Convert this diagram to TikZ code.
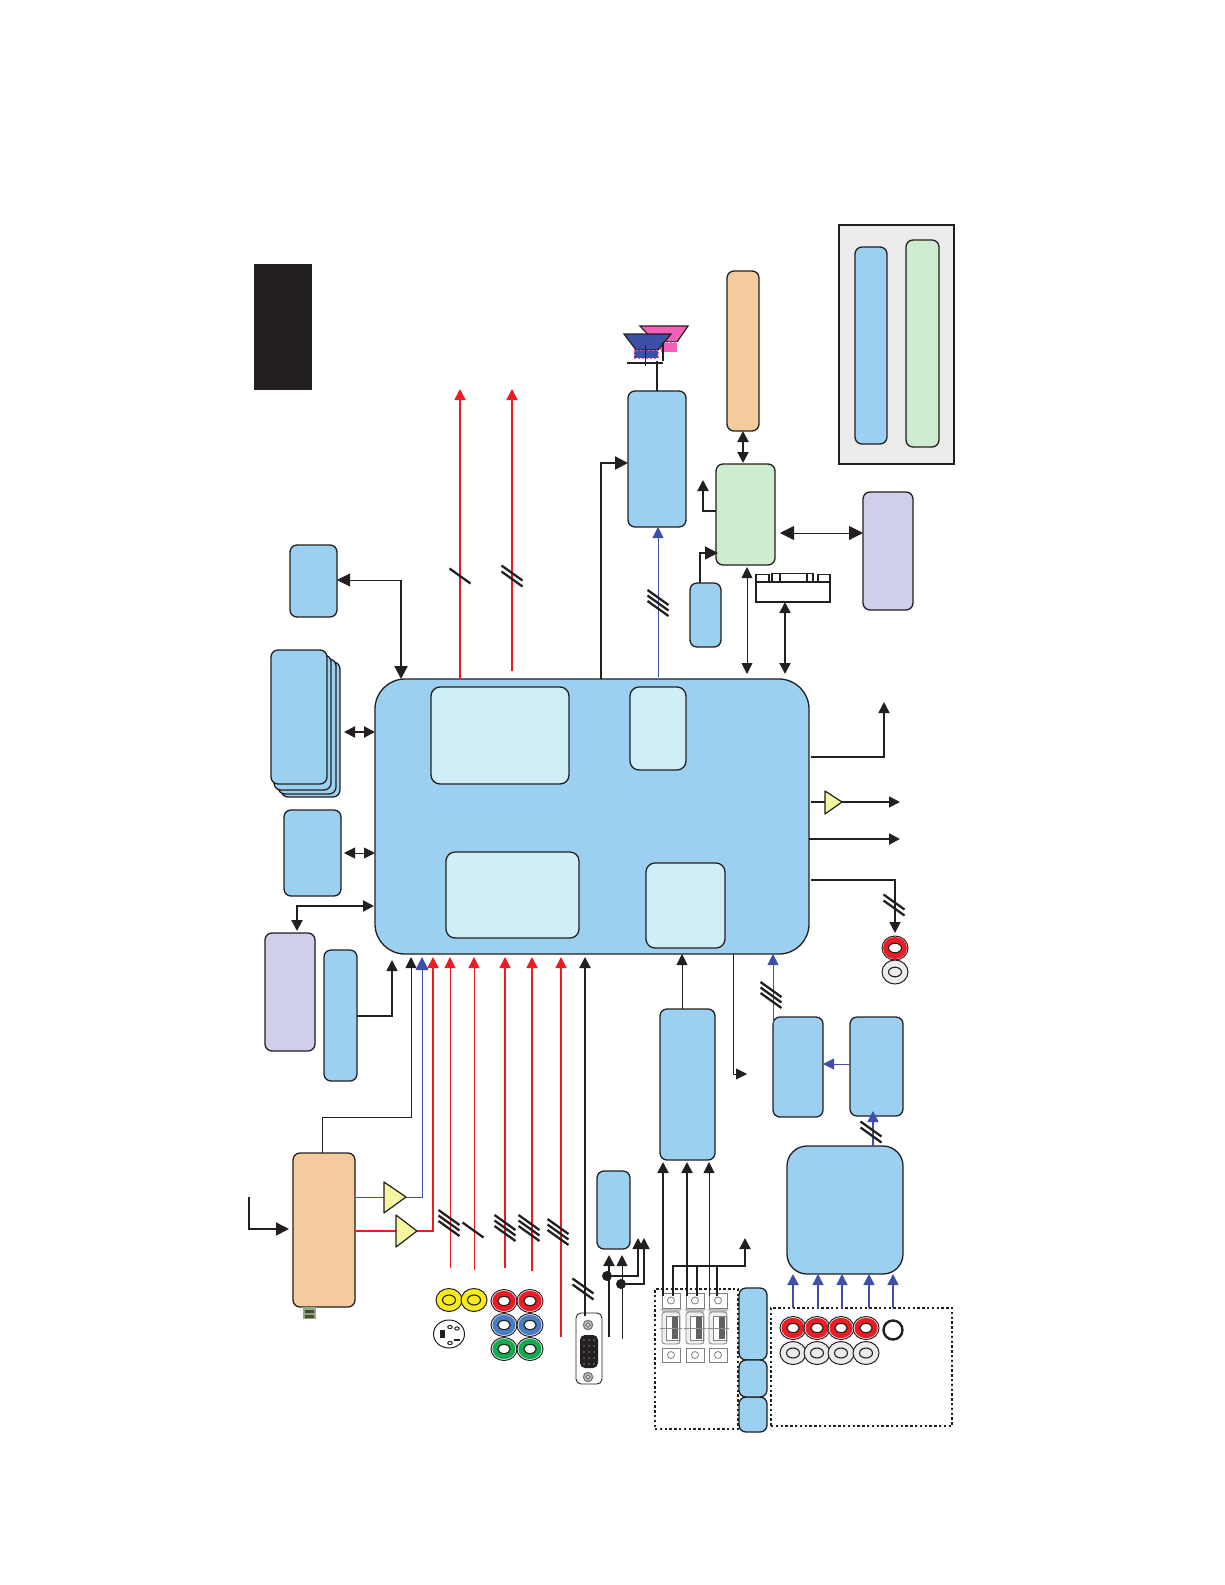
\documentclass[tikz,border=0pt]{standalone}
\usetikzlibrary{arrows.meta,shapes.geometric}
\definecolor{cblue}{RGB}{155,208,241}
\definecolor{ccyan}{RGB}{208,238,247}
\definecolor{corange}{RGB}{243,203,156}
\definecolor{cgreen}{RGB}{206,236,208}
\definecolor{cpurple}{RGB}{207,207,234}
\definecolor{cyellow}{RGB}{246,245,160}
\definecolor{ablue}{RGB}{61,80,168}
\definecolor{ared}{RGB}{237,28,36}
\definecolor{kk}{RGB}{35,31,32}
\definecolor{cgray}{RGB}{236,236,236}
\definecolor{cpink}{RGB}{245,95,184}
\definecolor{jblue}{RGB}{70,125,195}
\definecolor{jgreen}{RGB}{20,170,80}
\definecolor{jyellow}{RGB}{250,235,30}
\tikzset{
 basebox/.style={draw=kk,line width=.65pt,inner sep=0pt,outer sep=0pt,rounded corners=3.5pt},
 bl/.style={basebox,fill=cblue},
 cy/.style={basebox,fill=ccyan,rounded corners=4.5pt},
 or/.style={basebox,fill=corange},
 gr/.style={basebox,fill=cgreen},
 pu/.style={basebox,fill=cpurple},
 w1/.style={line width=.42pt},
 w2/.style={line width=.75pt},
 w3/.style={line width=1.1pt},
 kl/.style={draw=kk},
 rl/.style={draw=ared},
 bu/.style={draw=ablue},
 ar/.style={-{Triangle[length=6.5pt,width=6.5pt]}},
 ars/.style={-{Triangle[length=5.5pt,width=5.5pt]}},
 dar/.style={{Triangle[length=5.5pt,width=5.5pt]}-{Triangle[length=5.5pt,width=5.5pt]}},
 darw/.style={{Triangle[length=7pt,width=7pt]}-{Triangle[length=7pt,width=7pt]}},
 slashline/.style={draw=kk,line width=1.15pt},
 amp/.style={draw=kk,line width=.6pt,fill=cyellow,line join=round},
 dotbox/.style={draw=kk,line width=.75pt,dash pattern=on 1.2pt off 1.2pt},
 jo/.style={draw=kk,line width=.5pt,fill=white},
 ji/.style={draw=kk,line width=.55pt},
 dotc/.style={circle,fill=kk,inner sep=0pt,minimum size=5pt},
 grayp/.style={draw=black!50,line width=.4pt,fill=white},
}
% box from corners in reference pixels: name, x1,y1,x2,y2, style
\newcommand\bx[6]{\node[#6,minimum width={(#4-#2)*.5pt},minimum height={(#5-#3)*.5pt}] (#1) at ({(#2+#4)/2},{(#3+#5)/2}) {};}
\newcommand\slashone[2]{\draw[slashline] (#1-10.5,#2-7.5) -- (#1+10.5,#2+7.5);}
\newcommand\slashtwo[2]{\draw[slashline] (#1-10.5,#2-10.5) -- (#1+10.5,#2+4.5) (#1-10.5,#2-4.5) -- (#1+10.5,#2+10.5);}
\newcommand\slashthree[2]{\draw[slashline] (#1-10.5,#2-13) -- (#1+10.5,#2+2) (#1-10.5,#2-7.5) -- (#1+10.5,#2+7.5) (#1-10.5,#2-2) -- (#1+10.5,#2+13);}
\newcommand\jackc[3]{\draw[jo] (#2,#3) ellipse (13 and 11.5); \fill[#1] (#2,#3) ellipse (11.6 and 10.2); \draw[ji,fill=white] (#2,#3) ellipse (6.2 and 4.6);}
\newcommand\jacky[2]{\draw[jo,fill=jyellow] (#1,#2) ellipse (13 and 11.5); \draw[ji,fill=jyellow] (#1,#2) ellipse (6.5 and 5);}
\newcommand\jackw[2]{\draw[jo,fill=cgray] (#1,#2) ellipse (13 and 11.5); \draw[ji,fill=cgray] (#1,#2) ellipse (6.5 and 5);}
\newcommand\hdmiunit[1]{
 \draw[grayp] (#1-9,1293) rectangle (#1+9,1308);
 \draw[grayp] (#1,1300.5) circle (3.5);
 \fill[black!25] (#1-11,1309) -- (#1-8,1312) -- (#1+8,1312) -- (#1+11,1309) -- cycle;
 \draw[grayp,fill=black!6,rounded corners=1.5pt] (#1-9,1312) rectangle (#1+9,1344);
 \draw[grayp,fill=white] (#1-5,1316) rectangle (#1+8,1340);
 \fill[black!62] (#1+1,1317) rectangle (#1+7,1339);
 \draw[black!45,line width=.25pt] (#1-11,1328) -- (#1+11,1328);
 \draw[grayp] (#1-9,1348) rectangle (#1+9,1362);
 \draw[grayp] (#1,1355) circle (3.5);
}
\begin{document}
\begin{tikzpicture}[x=.5pt,y=-.5pt]
\useasboundingbox (0,0) rectangle (1225,1585);
% legend and label panels
\bx{blackpanel}{254}{264}{312}{390}{fill=kk,inner sep=0pt,outer sep=0pt}
\bx{graypanel}{839}{225}{954}{464}{draw=kk,line width=.6pt,fill=cgray,inner sep=0pt,outer sep=0pt}
\bx{legendblue}{855}{247}{887}{444}{bl}
\bx{legendgreen}{906}{240}{939}{447}{gr}
% main chip
\bx{main}{375}{679}{809}{954}{bl,rounded corners=15pt}
\bx{innera}{431}{687}{569}{784}{cy}
\bx{innerb}{630}{687}{686}{770}{cy}
\bx{innerc}{446}{852}{579}{938}{cy}
\bx{innerd}{646}{863}{725}{948}{cy}
% left blocks
\bx{topleft}{290}{545}{337}{617}{bl}
\bx{stackc}{281}{662}{340}{797}{bl}
\bx{stackb}{278}{659}{336}{794}{bl}
\bx{stacka}{274}{655}{331}{790}{bl}
\bx{stack}{271}{650}{327}{784}{bl}
\bx{flash}{284}{810}{341}{896}{bl}
\bx{purpleleft}{265}{933}{315}{1051}{pu}
\bx{narrow}{324}{950}{357}{1081}{bl}
\bx{tuner}{293}{1153}{355}{1307}{or}
\bx{usb}{303}{1307}{316}{1319}{fill=black!35!green!25!gray!70,inner sep=0pt,outer sep=0pt}
\fill[black!55!olive] (305,1310) rectangle (314,1313) (305,1315) rectangle (314,1318);
% top blocks
\bx{ampbox}{628}{391}{686}{527}{bl}
\bx{tallorange}{727}{271}{759}{431}{or}
\bx{greenbox}{716}{464}{775}{565}{gr}
\bx{smallblue}{690}{583}{721}{647}{bl}
\bx{purpleright}{863}{492}{913}{610}{pu}
% bottom blocks
\bx{hdmibox}{660}{1009}{715}{1160}{bl}
\bx{bluemid}{773}{1017}{823}{1117}{bl}
\bx{blueright}{850}{1017}{903}{1116}{bl}
\bx{bigblue}{787}{1146}{903}{1274}{bl,rounded corners=10pt}
\bx{vgabox}{597}{1171}{630}{1249}{bl}
\bx{stripa}{739}{1288}{767}{1360}{bl}
\bx{stripc}{739}{1397}{767}{1432}{bl}
\bx{stripb}{739}{1360}{767}{1397}{bl}
\bx{hdmizone}{655}{1289}{738}{1429}{dotbox}
\bx{audiozone}{771}{1308}{952}{1426}{dotbox}
% speakers
\draw[kk,line width=.6pt,fill=cpink] (640,326) -- (688,326) -- (677,342) -- (655,342) -- cycle;
\fill[cpink] (660,342) rectangle (677,352);
\draw[white,line width=.4pt,dash pattern=on 1pt off 1pt] (660,342) rectangle (677,352);
\draw[kk,line width=.6pt,fill=ablue] (624,334) -- (671,334) -- (658,350) -- (636,350) -- cycle;
\fill[ablue] (634,350) rectangle (658,358);
\draw[cpink,line width=.4pt,dash pattern=on 1pt off 1pt] (634,350) rectangle (658,358);
\draw[kk,line width=.55pt] (627,363) -- (663,363) (645.5,345) -- (645.5,366) (663,342) -- (663,361);
\coordinate (spk) at (657,361);
\draw[kl,w2] (spk) -- (spk |- ampbox.north);
% red top outputs
\coordinate (rta) at (460,389);
\coordinate (rtb) at (512,389);
\draw[rl,w2,ars] (rta |- main.north) -- (rta);
\draw[rl,w2,ars,shorten <=4pt] (rtb |- main.north) -- (rtb);
\slashone{460}{576}
\slashtwo{512}{576}
% top-left bus
\coordinate (tlb) at (401,580);
\draw[kl,w1,ar] (tlb) -- (topleft.east |- tlb);
\draw[kl,w3,ar] (tlb) -- (tlb |- main.north);
% left arrows
\coordinate (la) at (344,732);
\draw[kl,w3,dar] (la) -- (la -| main.west);
\coordinate (lb) at (344,853);
\draw[kl,w1,dar] (lb) -- (lb -| main.west);
\coordinate (lc) at (297,931);
\coordinate (lc2) at (374,906);
\draw[kl,w3,{Triangle[length=5.5pt,width=5.5pt]}-{Triangle[length=5.5pt,width=5.5pt]}] (lc) |- (lc2);
\coordinate (ln) at (392,1016);
\coordinate (lnt) at (392,960);
\draw[kl,w2,ars] (narrow.east |- ln) -| (lnt);
% top right connectors
\coordinate (spb) at (601,463);
\draw[kl,w3,ar] (spb |- main.north) |- (ampbox.west |- spb);
\coordinate (sba) at (658,677);
\draw[bu,w1,ars] (sba) -- (ampbox.south -| sba);
\slashthree{658}{603}
\coordinate (oa) at (743,463);
\draw[kl,w3,dar] (oa) -- (oa |- tallorange.south);
\coordinate (gua) at (703,480);
\draw[kl,w3,ars] (greenbox.west |- 0,511) -| (gua);
\coordinate (sbb) at (700,553);
\draw[kl,w2,ar] (sbb |- smallblue.north) |- (718,553);
\coordinate (hza) at (780,533);
\draw[kl,w1,darw] (hza) -- (purpleright.west |- hza);
\coordinate (dva) at (747,674);
\draw[kl,w1,dar] (dva) -- (747,567);
% DVI connector
\bx{dvi}{756}{582}{830}{602}{draw=kk,line width=.6pt,fill=white,inner sep=0pt,outer sep=0pt}
\draw[kk,line width=.55pt,fill=white] (756,574.5) rectangle (769,582);
\draw[kk,line width=.55pt,fill=white] (772,573.5) rectangle (813,582);
\draw[kk,line width=.55pt] (780,573.5) -- (780,582) (807,573.5) -- (807,582);
\draw[kk,line width=.55pt,fill=white] (818,574.5) rectangle (830,582);
\coordinate (dvb) at (785,674);
\draw[kl,w3,dar] (dvb) -- (dvb |- dvi.south);
% right outputs
\coordinate (rra) at (884,702);
\draw[kl,w2,ars] (main.east |- 0,757) ++(2,0) -| (rra);
\coordinate (rrb) at (900,802);
\draw[kl,w2] (main.east |- rrb) ++(2,0) -- (825,802);
\draw[kl,w2,ars] (842,802) -- (rrb);
\draw[amp] (825,791) -- (825,814) -- (842,802) -- cycle;
\coordinate (rrc) at (900,839);
\draw[kl,w3,ars] (main.east |- rrc) -- (rrc);
\coordinate (rrd) at (895,933);
\draw[kl,w2,ars] (main.east |- 0,880) ++(2,0) -| (rrd);
\slashtwo{894}{905}
\draw[jo] (895,948) ellipse (13 and 12); \fill[ared] (895,948) ellipse (12 and 11); \draw[ji,fill=white] (895,948) ellipse (6.5 and 4.8);
\draw[jo,fill=cgray] (895,972) ellipse (13 and 12); \draw[ji,fill=cgray] (895,972) ellipse (6.5 and 4.8);
% bottom right
\coordinate (bma) at (733,1074);
\coordinate (bmt) at (747,1074);
\draw[kl,w1,ars] (bma |- main.south) |- (bmt);
\coordinate (bmb) at (773,1027);
\draw[bu,w1,ars] (bmb) -- (bmb |- main.south);
\slashthree{771}{995}
\draw[bu,w1,ars] (blueright.west |- 0,1064) -- (bluemid.east |- 0,1064);
\coordinate (bmc) at (873,1111);
\draw[bu,w2,ars] (bmc |- bigblue.north) -- (bmc);
\slashtwo{871}{1132}
\coordinate (hb) at (682,1009);
\draw[kl,w1,ars] (hb) -- (hb |- main.south);
% HDMI
\hdmiunit{671}
\hdmiunit{695}
\hdmiunit{718}
\coordinate (ha) at (663,1296);
\coordinate (hc) at (687,1296);
\coordinate (he) at (709,1296);
\coordinate (hat) at (663.5,1162);
\draw[kl,w3,ars] (ha) -- (hat -| ha);
\draw[kl,w3,ars] (hc) -- (hat -| hc);
\draw[kl,w1,ars] (he) -- (hat -| he);
\coordinate (hbus) at (745,1266);
\draw[kl,w3,ars] (673,1296) |- (hbus) -- (745,1238);
\draw[kl,w3] (697,1296) -- (697,1266);
\draw[kl,w2] (717,1296) -- (717,1266);
% audio inputs
\foreach \p/\w in {793/w3,818/w2,842/w2,869/w2,893/w2}{
 \coordinate (aud) at (\p,1308);
 \draw[bu,\w,{Triangle[length=5.5pt,width=5.5pt]}-] (aud |- bigblue.south) -- (aud);
}
\foreach \x in {793,817,841,866}{\jackc{ared}{\x}{1328}}
\foreach \x in {793,817,841,866}{\jackw{\x}{1353}}
\draw[kk,line width=1.2pt,fill=white] (893,1330) ellipse (9.5 and 9.5);
% tuner connectors
\coordinate (tuin) at (249,1197);
\draw[kl,w2,ar,shorten >=2pt] (tuin) |- (tuner.west |- 0,1229);
\coordinate (tuk) at (322,1117);
\coordinate (tuk2) at (411,1000);
\draw[kl,w1] (tuk |- tuner.north) -- (tuk) -| (tuk2);
\coordinate (bmt2) at (411,957);
\draw[kl,w1,ars] (tuk2) -- (bmt2);
\draw[bu,w1] (tuner.east |- 0,1197) -- (384,1197);
\draw[bu,w1,ar] (406,1197) -| (422,957);
\draw[amp] (384,1182) -- (384,1213) -- (406,1197) -- cycle;
\draw[rl,w3] (tuner.east |- 0,1231) -- (396,1231);
\draw[rl,w3,ars] (417,1231) -| (433,957);
\draw[amp] (396,1215) -- (396,1247) -- (417,1231) -- cycle;
% analog video inputs
\foreach \p/\q/\w in {450/1268/w1,474/1270/w1,505/1268/w2,532/1271/w2,561/1337/w2}{
 \coordinate (vin) at (\p,\q);
 \draw[rl,\w,ars] (vin) -- (\p,957);
}
\coordinate (vgal) at (585,1313);
\draw[kl,w3,ars] (vgal) -- (585,957);
\slashthree{449}{1223}
\slashone{473}{1230}
\slashthree{505}{1228}
\slashthree{529}{1228}
\slashthree{558}{1232}
\slashtwo{583}{1289}
% jacks
\jacky{449}{1300}
\jacky{474}{1300}
\jackc{ared}{504}{1301}
\jackc{ared}{530}{1301}
\jackc{jblue}{504}{1325}
\jackc{jblue}{530}{1325}
\jackc{jgreen}{504}{1349}
\jackc{jgreen}{530}{1349}
% S-video
\draw[jo] (449,1334) ellipse (15.5 and 14);
\fill[kk] (440,1330) rectangle (444.5,1338);
\draw[kk,line width=.5pt] (450,1327) ellipse (2.3 and 1.6) (457,1328.5) ellipse (2.3 and 1.6) (450,1343) ellipse (2.3 and 1.6);
\fill[kk] (454,1339) rectangle (460,1341);
% VGA connector
\draw[kk,line width=.45pt,fill=white,rounded corners=2.5pt] (576,1313) rectangle (602,1384);
\draw[black!50,line width=.8pt,fill=white] (588,1325) circle (4.5);
\draw[black!50,line width=.8pt,fill=black!10] (588,1325) circle (2);
\draw[black!50,line width=.8pt,fill=white] (588,1377) circle (4.5);
\draw[black!50,line width=.8pt,fill=black!10] (588,1377) circle (2);
\fill[kk,rounded corners=2.5pt] (580,1335) rectangle (598,1368);
\foreach \yy in {1340,1346,1352,1358,1364}{\fill[black!50] (584,\yy) circle (.8) (589,\yy) circle (.8) (594,\yy) circle (.8);}
\draw[kl,w3] (vgal) -- (585,1316);
% VGA area arrows
\coordinate (va) at (609,1337);
\coordinate (vb) at (622,1339);
\coordinate (vat) at (609,1255);
\draw[kl,w3,ars] (va) -- (va |- vat);
\draw[kl,w1,ars] (vb) -- (vb |- vat);
\node[dotc] (da) at (607,1276) {};
\node[dotc] (db) at (621,1284) {};
\coordinate (vc) at (638,1238);
\coordinate (vd) at (644,1238);
\draw[kl,w2,ars] (da) -| (vc);
\draw[kl,w2,ars] (db) -| (vd);
\end{tikzpicture}
\end{document}
